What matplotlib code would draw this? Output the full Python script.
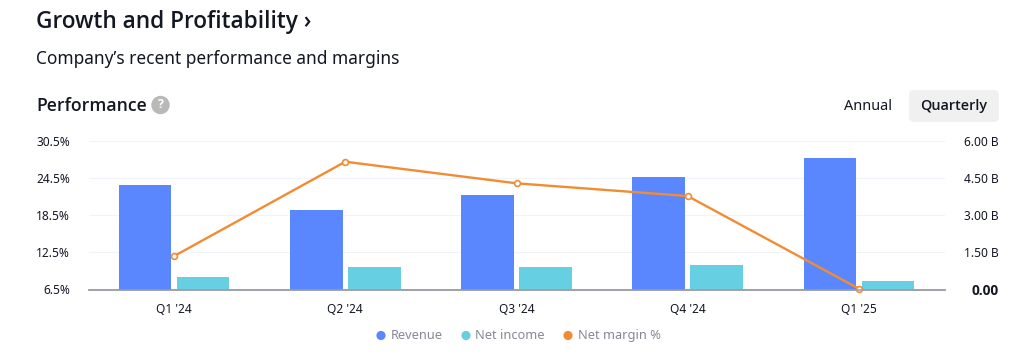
import matplotlib
matplotlib.use('Agg')
import matplotlib.pyplot as plt
from matplotlib.patches import FancyBboxPatch, Circle

plt.rcParams['font.family'] = ['Noto Sans', 'DejaVu Sans']

W = 1024
H = 364

quarters = ["Q1 '24", "Q2 '24", "Q3 '24", "Q4 '24", "Q1 '25"]
revenue = [4.24, 3.23, 3.80, 4.55, 5.33]
net_income = [0.49, 0.90, 0.90, 0.99, 0.34]
net_margin = [11.9, 27.15, 23.66, 21.6, 6.63]

margin_ticks = [6.5, 12.5, 18.5, 24.5, 30.5]
money_ticks = [0, 1.5, 3, 4.5, 6]
margin_labels = ['6.5%', '12.5%', '18.5%', '24.5%', '30.5%']
money_labels = ['0.00', '1.50 B', '3.00 B', '4.50 B', '6.00 B']

BLUE = '#5a87fd'
CYAN = '#67cfe2'
ORANGE = '#f28c33'
DARK = '#131722'
GREY = '#868993'
HEAD = ['Open Sans', 'DejaVu Sans']


def fx(px):
    return px / W


def fy(px):
    return 1 - px / H


fig = plt.figure(figsize=(W / 100, H / 100), dpi=100, facecolor='white')

# bars + grid sit on the right axis, the line goes on the left one above them
ax_bar = fig.add_axes([fx(88.5), fy(289.5), fx(856), 148.5 / H])
ax = ax_bar.twinx()
ax.set_position(ax_bar.get_position())
ax.yaxis.tick_left()
ax_bar.yaxis.tick_right()
ax.set_zorder(2)
ax_bar.set_zorder(1)
ax.patch.set_visible(False)

xs = list(range(len(quarters)))
offset = 0.169
bar_w = 0.307
ax_bar.bar([x - offset for x in xs], revenue, bar_w, color=BLUE, zorder=3)
ax_bar.bar([x + offset for x in xs], net_income, bar_w, color=CYAN, zorder=3)
ax_bar.set_ylim(0, 6)
ax_bar.set_xlim(-0.5, 4.5)
ax_bar.set_yticks(money_ticks)
ax_bar.set_yticklabels(money_labels, ha='right', color=DARK, fontsize=8.6)
ax_bar.tick_params(axis='y', length=0, pad=39.2)
zero_label = ax_bar.get_yticklabels()[0]
zero_label.set_fontfamily(HEAD)
zero_label.set_fontweight('bold')
zero_label.set_fontsize(9.8)
ax_bar.grid(axis='y', color='#f0f3fa', linewidth=0.8, zorder=0)
ax_bar.set_axisbelow(True)
ax_bar.set_xticks(xs)
ax_bar.set_xticklabels(quarters, color=DARK, fontsize=8.6)
ax_bar.tick_params(axis='x', length=0, pad=9.5)

ax.plot(xs, net_margin, color=ORANGE, linewidth=1.7, marker='o', markersize=4.2,
        markerfacecolor='white', markeredgecolor=ORANGE, markeredgewidth=1.2, clip_on=False)
ax.set_ylim(6.5, 30.5)
ax.set_yticks(margin_ticks)
ax.set_yticklabels(margin_labels, color=DARK, fontsize=8.6)
ax.tick_params(axis='y', length=0, pad=13.4)

for a in (ax, ax_bar):
    for s in a.spines.values():
        s.set_visible(False)
    a.spines['bottom'].set_visible(True)
    a.spines['bottom'].set_color('#9b9ea3')
    a.spines['bottom'].set_linewidth(1.1)

# headings
fig.text(fx(36), fy(21.5), 'Growth and Profitability ›', fontsize=16.3, family=HEAD, fontweight='semibold',
         color=DARK, va='center')
fig.text(fx(36), fy(59.5), 'Company’s recent performance and margins', fontsize=12.45,
         color=DARK, va='center')
fig.text(fx(36), fy(105.5), 'Performance', fontsize=12.7, family=HEAD, fontweight='semibold',
         color=DARK, va='center')

# help icon, drawn in pixel coordinates on the figure
px_tf = matplotlib.transforms.Affine2D().scale(1, -1).translate(0, H)
fig.patches.append(Circle((160.5, 105), 9.2, facecolor='#b9b9b9', edgecolor='none', transform=px_tf))
fig.text(fx(160.5), fy(105), '?', fontsize=9, family=HEAD, fontweight='bold', color='white', ha='center', va='center')

# period switch
fig.patches.append(FancyBboxPatch((913, 94), 82, 24, boxstyle='round,pad=0,rounding_size=0',
                                  facecolor='#f0f0f0', edgecolor='#f0f0f0', linewidth=5.5,
                                  joinstyle='round', transform=px_tf))
fig.text(fx(868.5), fy(106), 'Annual', fontsize=10.4, color=DARK, ha='center', va='center')
fig.text(fx(954), fy(106), 'Quarterly', fontsize=10.4, family=HEAD, fontweight='semibold', color=DARK,
         ha='center', va='center')

# legend
legend_items = [('Revenue', BLUE, 381, 391), ('Net income', CYAN, 466, 475), ('Net margin %', ORANGE, 568, 578)]
for name, colour, dot_x, text_x in legend_items:
    fig.patches.append(Circle((dot_x, 335.5), 4.6, facecolor=colour, edgecolor='none', transform=px_tf))
    fig.text(fx(text_x), fy(335.5), name, fontsize=9.2, color=GREY, va='center')

fig.savefig('out.png', dpi=100)
